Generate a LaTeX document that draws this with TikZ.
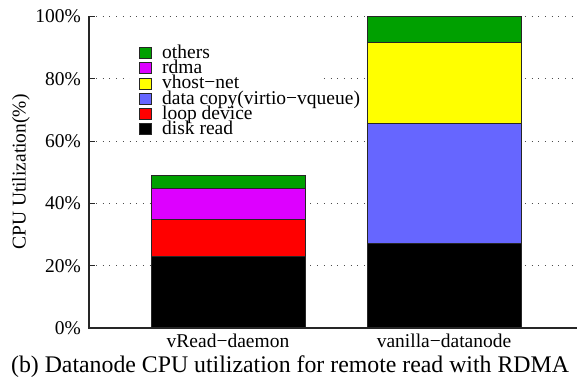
\documentclass[tikz,border=0pt]{standalone}
\usepackage{fontspec}
\setmainfont{Liberation Serif}
\definecolor{othersgreen}{HTML}{00A000}
\definecolor{rdmamagenta}{HTML}{DD00FF}
\definecolor{vhostyellow}{HTML}{FFFF00}
\definecolor{copyblue}{HTML}{6666FF}
\definecolor{loopred}{HTML}{FF0000}
\begin{document}
\begin{tikzpicture}[x=1pt,y=-1pt,
  declare function={pv(\v)=328-3.116*\v;},
  axisline/.style={line width=1.3pt,black!85},
  tickmark/.style={line width=0.8pt,black!85},
  gridline/.style={line width=0.8pt,black!70,dash pattern=on 1pt off 5.7pt},
  seg/.style={draw=black!85,line width=0.8pt},
  lbl/.style={inner sep=0pt,font=\fontsize{19.5}{20}\selectfont},
  ticklbl/.style={lbl,anchor=east},
  keybox/.style={draw=black!85,line width=0.8pt,minimum width=12pt,minimum height=11pt,inner sep=0pt},
  keytext/.style={lbl,anchor=base west}
]
\useasboundingbox (0,0) rectangle (577,378);

% horizontal grid
\foreach \v in {20,40,60,80,100}
  \draw[gridline] (96,{pv(\v)}) -- (573,{pv(\v)});

% opaque key background
\fill[white] (130,44) rectangle (322,137);

% y ticks and labels
\foreach \v in {0,20,40,60,80,100}{
  \draw[tickmark] (89,{pv(\v)}) -- (95,{pv(\v)});
  \node[ticklbl] (t\v) at (81,{pv(\v)}) {\v\%};
}

% stacked bar: vRead-daemon
\path[seg,fill=black]       (151,{pv(0)})    rectangle (305,{pv(22.9)});
\path[seg,fill=loopred]     (151,{pv(22.9)}) rectangle (305,{pv(34.8)});
\path[seg,fill=rdmamagenta] (151,{pv(34.8)}) rectangle (305,{pv(44.8)});
\path[seg,fill=othersgreen] (151,{pv(44.8)}) rectangle (305,{pv(48.9)});

% stacked bar: vanilla-datanode
\path[seg,fill=black]       (367,{pv(0)})    rectangle (521,{pv(27.0)});
\path[seg,fill=copyblue]    (367,{pv(27.0)}) rectangle (521,{pv(65.6)});
\path[seg,fill=vhostyellow] (367,{pv(65.6)}) rectangle (521,{pv(91.8)});
\path[seg,fill=othersgreen] (367,{pv(91.8)}) rectangle (521,{pv(100)});

% axes
\draw[axisline] (89,{pv(100)}) -- (89,{pv(0)}) -- (577,{pv(0)});

% key
\node[keybox,fill=othersgreen] (k1) at (145.5,53.0) {};
\node[keytext] (l1) at (162,58.5) {others};
\node[keybox,fill=rdmamagenta] (k2) at (145.5,68.2) {};
\node[keytext] (l2) at (162,73.7) {rdma};
\node[keybox,fill=vhostyellow] (k3) at (145.5,83.4) {};
\node[keytext] (l3) at (162,88.9) {vhost−net};
\node[keybox,fill=copyblue] (k4) at (145.5,98.6) {};
\node[keytext] (l4) at (162,104.1) {data copy(virtio−vqueue)};
\node[keybox,fill=loopred] (k5) at (145.5,113.8) {};
\node[keytext] (l5) at (162,119.3) {loop device};
\node[keybox,fill=black] (k6) at (145.5,129.0) {};
\node[keytext] (l6) at (162,134.5) {disk read};

% axis titles and category labels
\node[lbl,rotate=90] (ylab) at (21,172) {CPU Utilization(\%)};
\node[lbl,anchor=base] (xa) at (228,347) {vRead−daemon};
\node[lbl,anchor=base] (xb) at (444,347) {vanilla−datanode};

% caption
\node[inner sep=0pt,anchor=base,font=\fontsize{23.8}{25}\selectfont] (cap) at (290,372)
  {(b) Datanode CPU utilization for remote read with RDMA};
\end{tikzpicture}
\end{document}
